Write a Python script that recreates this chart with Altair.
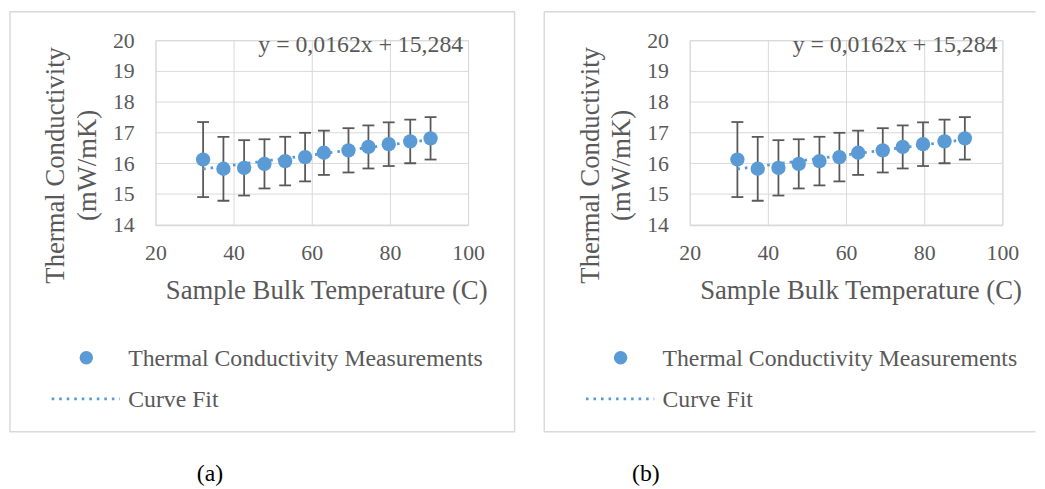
import altair as alt
import pandas as pd

# ---- data ----
temps = [32.2, 37.4, 42.7, 47.9, 53.2, 58.3, 63.1, 69.4, 74.5, 79.7, 85.2, 90.4]
conductivity = [16.12, 15.82, 15.85, 15.98, 16.07, 16.20, 16.34, 16.42, 16.53, 16.62, 16.71, 16.81]
error = [1.22, 1.04, 0.90, 0.80, 0.79, 0.79, 0.72, 0.72, 0.70, 0.71, 0.71, 0.69]

x_ticks = [20, 40, 60, 80, 100]
y_ticks = [14, 15, 16, 17, 18, 19, 20]
equation = "y = 0,0162x + 15,284"
x_title = "Sample Bulk Temperature (C)"
y_title = ["Thermal Conductivity", "(mW/mK)"]
series_label = "Thermal Conductivity Measurements"
fit_label = "Curve Fit"
captions = ["(a)", "(b)"]

df = pd.DataFrame({"temp": temps, "tc": conductivity, "err": error})
one = pd.DataFrame({"k": [0]})

W, H = 316, 186.5
BLUE = "#5B9BD5"
GRAY = "#595959"
LIGHT = "#D9D9D9"
FONT = "Liberation Serif"

xs = alt.Scale(domain=[20, 100], nice=False, zero=False)
ys = alt.Scale(domain=[14, 20], nice=False, zero=False)

x_axis = alt.Axis(values=x_ticks, title=x_title, grid=True, ticks=False, tickSize=0,
                  domainColor=LIGHT, labelPadding=18, labelFontSize=22,
                  titleFontSize=27, titleX=172.6, titleY=66.3,
                  titleBaseline="middle", titleAlign="center", labelFlush=False)
y_axis = alt.Axis(values=y_ticks, title=y_title, grid=True, ticks=False, tickSize=0,
                  domain=False, labelPadding=21.5, labelFontSize=22,
                  titleFontSize=27, titleAngle=270, titleX=-92.5, titleY=126,
                  titleBaseline="alphabetic", titleAlign="center",
                  titleLineHeight=31.7, labelFlush=False)


def xenc():
    return alt.X("temp:Q", scale=xs, axis=x_axis)


def yenc(field):
    return alt.Y(f"{field}:Q", scale=ys, axis=y_axis)


def panel(caption, cap_x, full_border):
    base = alt.Chart(df).transform_calculate(
        lo="datum.tc - datum.err", hi="datum.tc + datum.err")

    layers = []
    if full_border:
        layers.append(alt.Chart(one).mark_rect(fill="white", fillOpacity=0, stroke=LIGHT,
                                               strokeWidth=1.5).encode(
            x=alt.value(-147), x2=alt.value(363), y=alt.value(-28.7), y2=alt.value(395.8)))
    else:
        layers.append(alt.Chart(one).mark_rule(color=LIGHT, strokeWidth=1.5).encode(
            x=alt.value(-147), y=alt.value(-28.7), y2=alt.value(395.8)))
        layers.append(alt.Chart(one).mark_rule(color=LIGHT, strokeWidth=1.5).encode(
            x=alt.value(-147), x2=alt.value(349.5), y=alt.value(-28.7)))
        layers.append(alt.Chart(one).mark_rule(color=LIGHT, strokeWidth=1.5).encode(
            x=alt.value(-147), x2=alt.value(349.5), y=alt.value(395.8)))

    bars = base.mark_rule(color=GRAY, strokeWidth=1.8).encode(
        x=xenc(), y=yenc("lo"), y2="hi:Q")
    cap_lo = base.mark_tick(orient="horizontal", color=GRAY, size=12, thickness=1.8,
                            opacity=1).encode(x=xenc(), y=yenc("lo"))
    cap_hi = base.mark_tick(orient="horizontal", color=GRAY, size=12, thickness=1.8,
                            opacity=1).encode(x=xenc(), y=yenc("hi"))
    fit = alt.Chart(df).transform_regression("temp", "tc").mark_line(
        color=BLUE, strokeWidth=2.8, strokeDash=[2.6, 5]).encode(x=xenc(), y=yenc("tc"))
    pts = alt.Chart(df).mark_point(filled=True, size=210, color=BLUE, opacity=1).encode(
        x=xenc(), y=yenc("tc"))

    eq = alt.Chart(one).mark_text(text=equation, align="right", baseline="alphabetic",
                                  fontSize=24, color=GRAY, font=FONT).encode(
        x=alt.value(W - 5), y=alt.value(12))

    leg_pt = alt.Chart(one).mark_point(filled=True, size=185, color=BLUE, opacity=1).encode(
        x=alt.value(-69.85), y=alt.value(320.85))
    leg_t1 = alt.Chart(one).mark_text(text=series_label, align="left", baseline="middle",
                                      fontSize=24, color=GRAY, font=FONT).encode(
        x=alt.value(-27.5), y=alt.value(322))
    leg_ln = alt.Chart(one).mark_rule(color=BLUE, strokeWidth=2.8, strokeDash=[2.6, 5]).encode(
        x=alt.value(-104.85), x2=alt.value(-35.85), y=alt.value(362.55))
    leg_t2 = alt.Chart(one).mark_text(text=fit_label, align="left", baseline="middle",
                                      fontSize=24, color=GRAY, font=FONT).encode(
        x=alt.value(-27.5), y=alt.value(363.65))
    cap = alt.Chart(one).mark_text(text=caption, align="center", baseline="alphabetic",
                                   fontSize=24, color="#000000", font=FONT).encode(
        x=alt.value(cap_x), y=alt.value(445))

    layers += [bars, cap_lo, cap_hi, fit, pts, eq, leg_pt, leg_t1, leg_ln, leg_t2, cap]
    return alt.layer(*layers).properties(width=W, height=H)


left = panel(captions[0], 55.2, True)
right = panel(captions[1], -44.3, False)

chart = alt.hconcat(left, right, spacing=26).properties(
    padding=0, background="white"
).configure_view(stroke=LIGHT, strokeWidth=1).configure_axis(
    labelFont=FONT, titleFont=FONT, labelColor=GRAY, titleColor=GRAY,
    gridColor=LIGHT, gridWidth=1, titleFontWeight="normal"
)

chart.save("out.html", embed_options={"renderer": "svg", "actions": False})
